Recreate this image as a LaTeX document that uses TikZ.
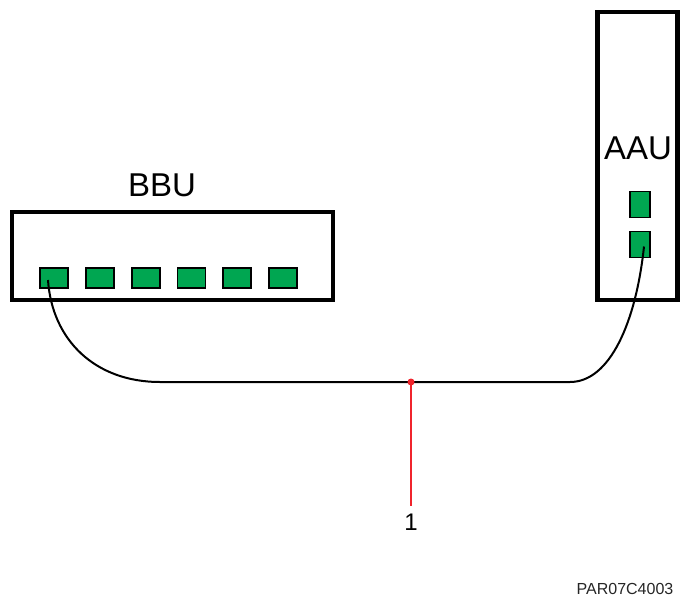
\documentclass[tikz,border=0pt]{standalone}
\usepackage{fontspec}
\setmainfont{Liberation Sans}
\usetikzlibrary{calc}
\definecolor{portgreen}{HTML}{00A651}
\definecolor{markred}{HTML}{F0242C}
\tikzset{
  unitbox/.style={draw=black, line width=4.5pt},
  bbuport/.style={draw=black, fill=portgreen, line width=1.8pt, inner sep=0pt,
                  minimum width=28pt, minimum height=20pt},
  aauport/.style={draw=black, fill=portgreen, line width=1.8pt, inner sep=0pt,
                  minimum width=20pt, minimum height=26pt},
  cable/.style={draw=black, line width=2pt},
  callout/.style={draw=markred, line width=2.4pt},
  label/.style={inner sep=0pt, text=black},
}
\begin{document}
\begin{tikzpicture}[x=1pt, y=-1pt]
  \useasboundingbox (0,0) rectangle (680,602);

  % baseband unit with its six ports
  \draw[unitbox] (12,212) rectangle (333,300);
  \node[label, font=\fontsize{33}{38}\selectfont] (bbulbl) at (162,185) {BBU};
  \foreach \i in {0,...,5} {
    \node[bbuport] (b\i) at ({54+45.8*\i},278) {};
  }

  % active antenna unit with its two ports
  \draw[unitbox] (597.5,12) rectangle (677.5,300);
  \node[label, font=\fontsize{33}{38}\selectfont] (aaulbl) at (638,148) {AAU};
  \node[aauport] (a0) at (640,204.5) {};
  \node[aauport] (a1) at (640,244.5) {};

  % fibre between the first BBU port and the lower AAU port
  \coordinate (mid) at (411,382);
  \draw[cable] ($(b0.center)+(-6,2)$) .. controls (52,340) and (95,382) .. (160,382)
    -- (mid) -- (570,382)
    .. controls (610,382) and (636,322) .. ($(a1.center)+(4,2)$);

  % callout
  \coordinate (calloutend) at (411,506);
  \draw[callout] (mid) -- (calloutend);
  \fill[markred] (mid) circle (3.5pt);
  \node[label, font=\fontsize{24}{28}\selectfont, anchor=north] (num) at (411,514) {1};

  \node[label, font=\fontsize{16}{19}\selectfont, text=black!85] (code) at (625,589) {PAR07C4003};
\end{tikzpicture}
\end{document}
